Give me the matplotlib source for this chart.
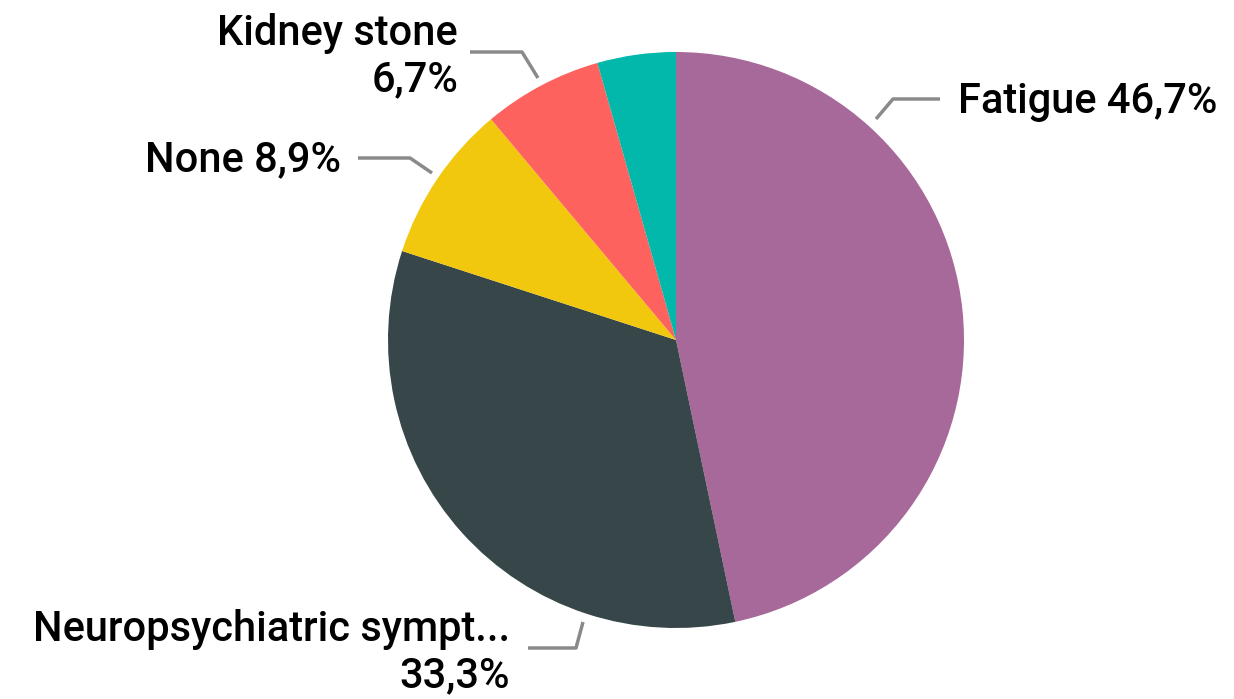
import matplotlib.pyplot as plt

# data
labels = ["Fatigue", "Neuropsychiatric sympt...", "None", "Kidney stone", ""]
values = [46.7, 33.3, 8.9, 6.7, 4.4]
colors = ["#A66999", "#374649", "#F2C80F", "#FD625E", "#01B8AA"]

plt.rcParams['font.family'] = ['Roboto', 'DejaVu Sans']

W, H = 1234, 699
fig = plt.figure(figsize=(W / 100, H / 100), dpi=100)
ax = fig.add_axes([0, 0, 1, 1])

# pie drawn in pixel space (y down -> counterclock=True gives clockwise on screen)
ax.pie(values, colors=colors, startangle=-90, counterclock=True,
       center=(676, 340), radius=288, frame=True,
       wedgeprops=dict(linewidth=0))
ax.set_xlim(0, W)
ax.set_ylim(H, 0)
ax.axis("off")

def fmt(v):
    return ("%.1f%%" % v).replace(".", ",")

# leader lines (pixel points) and label placement
leaders = {
    0: ([(876, 119), (893, 99), (940, 99)], (958, 101), "left", False),
    1: ([(583, 622), (576, 648), (528, 648)], (510, 653), "right", True),
    2: ([(432, 173), (410, 158), (358, 158)], (341, 160), "right", False),
    3: ([(538, 78), (522, 52), (470, 52)], (458, 57), "right", True),
}
for i, (pts, (tx, ty), ha, two_lines) in leaders.items():
    xs, ys = zip(*pts)
    ax.plot(xs, ys, color="#8A8A8A", lw=2.5, solid_capstyle="butt")
    if two_lines:
        txt = labels[i] + "\n" + fmt(values[i])
    else:
        txt = labels[i] + " " + fmt(values[i])
    ax.text(tx, ty, txt, ha=ha, va="center", fontsize=30, color="black",
            fontweight="medium", linespacing=1.16, multialignment="right")

fig.savefig("out.png", dpi=100)
